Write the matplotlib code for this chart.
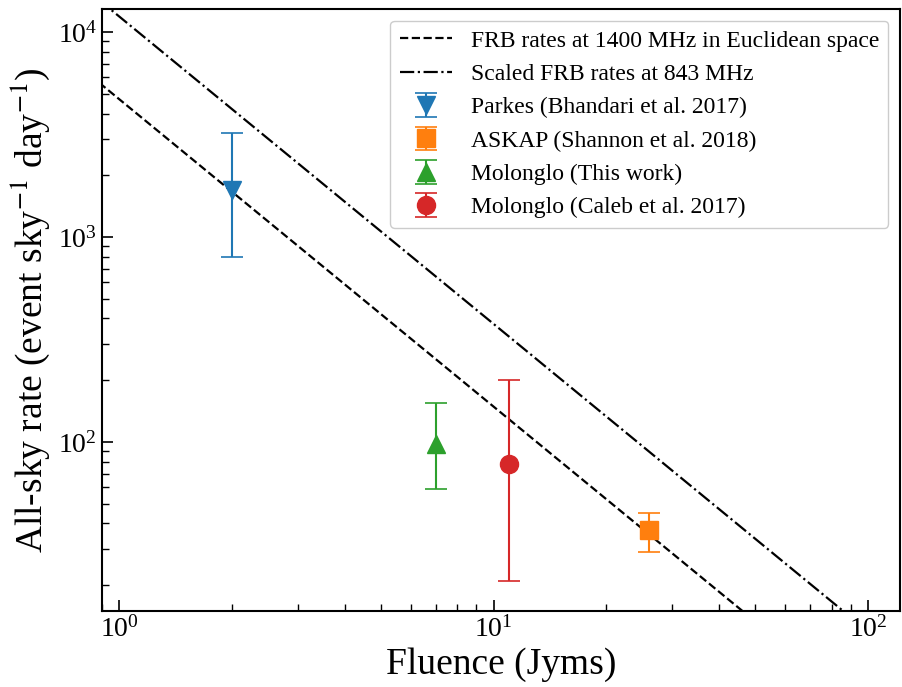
import numpy as np
import matplotlib
matplotlib.use("Agg")
import matplotlib.pyplot as plt

plt.rcParams['font.family'] = ['Liberation Serif', 'DejaVu Serif']
plt.rcParams['mathtext.fontset'] = 'stix'

# euclidean rate lines, R = A * F^-1.5
line_amp_1400 = 4700.0
line_amp_843 = 11900.0
line_index = -1.5

# survey points: fluence (Jy ms), rate, lower err, upper err
labels = ['Parkes (Bhandari et al. 2017)', 'ASKAP (Shannon et al. 2018)',
          'Molonglo (This work)', 'Molonglo (Caleb et al. 2017)']
fluence = [2.0, 26.0, 7.0, 11.0]
rate = [1700.0, 37.0, 98.0, 78.0]
err_lo = [900.0, 8.0, 39.0, 57.0]
err_hi = [1500.0, 8.0, 57.0, 122.0]
markers = ['v', 's', '^', 'o']
colors = ['C0', 'C1', 'C2', 'C3']

fig = plt.figure(figsize=(9.03, 6.87), dpi=100)
ax = fig.add_axes([0.113, 0.111, 0.884, 0.876])

F = np.logspace(-1, 3, 200)
ax.plot(F, line_amp_1400 * F**line_index, 'k--', lw=1.6,
        label='FRB rates at 1400 MHz in Euclidean space')
ax.plot(F, line_amp_843 * F**line_index, 'k-.', lw=1.6,
        label='Scaled FRB rates at 843 MHz')

for i in range(len(labels)):
    ax.errorbar(fluence[i], rate[i], yerr=[[err_lo[i]], [err_hi[i]]],
                fmt=markers[i], color=colors[i], ms=13, capsize=8,
                elinewidth=1.5, capthick=1.2, label=labels[i])

ax.set_xscale('log')
ax.set_yscale('log')
ax.set_xlim(0.9, 122)
ax.set_ylim(15, 12950)

ax.set_xlabel('Fluence (Jyms)', fontsize=27)
ax.set_ylabel(r'All-sky rate (event sky$^{-1}$ day$^{-1}$)', fontsize=27)
ax.tick_params(which='both', direction='in', labelsize=20)
ax.tick_params(which='major', length=8, width=1.2)
ax.tick_params(which='minor', length=5, width=1.0)
for s in ax.spines.values():
    s.set_linewidth(1.5)

ax.legend(loc='upper right', fontsize=17, handlelength=2.2, framealpha=1)

plt.savefig('out.png', dpi=100)
